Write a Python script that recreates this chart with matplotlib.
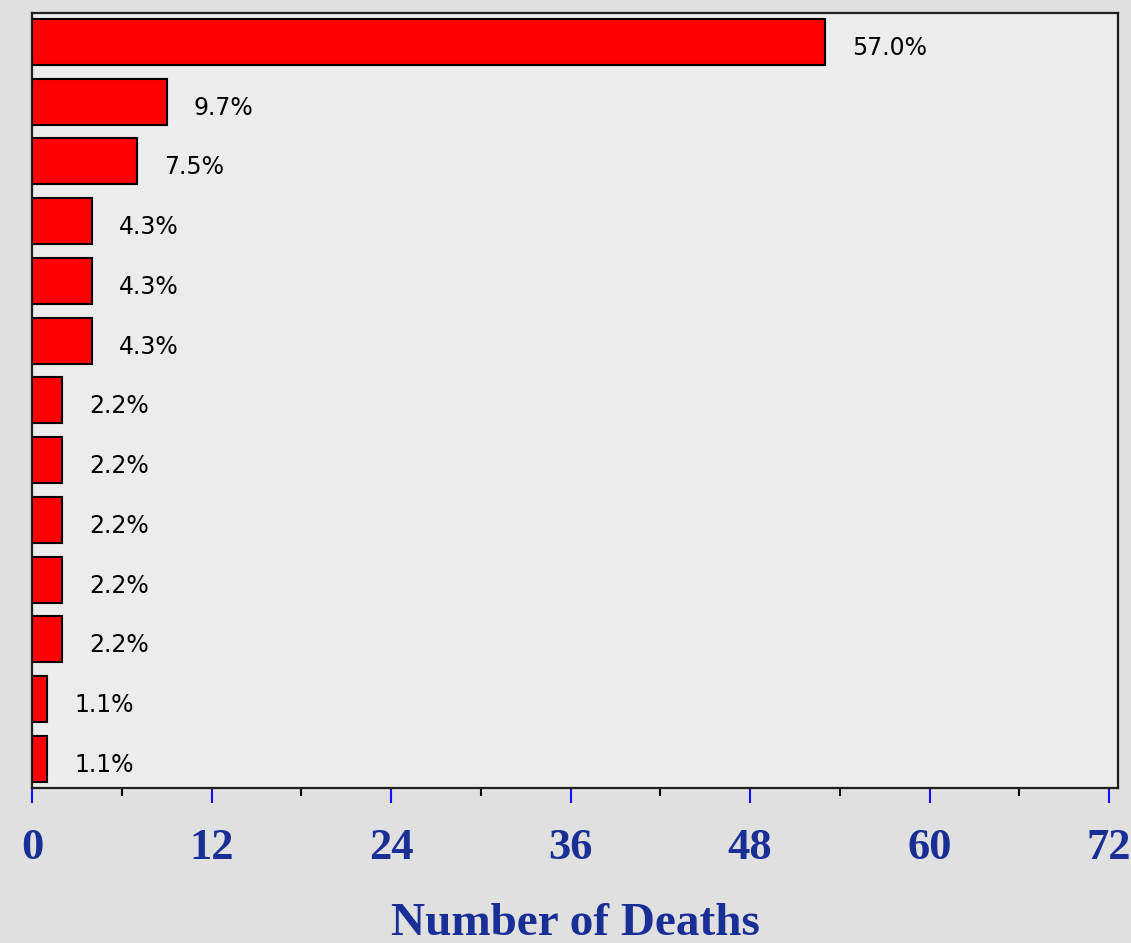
import numpy as np
import matplotlib.pyplot as plt
from matplotlib.ticker import MultipleLocator

# ---------------------------------------------------------------------------
# data (deaths per category, top to bottom)
# ---------------------------------------------------------------------------
deaths = [53, 9, 7, 4, 4, 4, 2, 2, 2, 2, 2, 1, 1]
pct_labels = ['57.0%', '9.7%', '7.5%', '4.3%', '4.3%', '4.3%',
              '2.2%', '2.2%', '2.2%', '2.2%', '2.2%', '1.1%', '1.1%']
x_ticks = [0, 12, 24, 36, 48, 60, 72]
x_label = 'Number of Deaths'

blue = '#1a2f96'

fig = plt.figure(figsize=(11.31, 9.43), dpi=100, facecolor='#e0e0e0')
ax = fig.add_axes([0.0283, 0.1644, 0.9602, 0.8218])
ax.set_facecolor('#ececec')

ypos = np.arange(len(deaths))
ax.barh(ypos, deaths, height=0.77, color='#ff0000', edgecolor='black',
        linewidth=1.5, zorder=3)

# percentage labels to the right of each bar, sitting a bit low
for y, v, lab in zip(ypos, deaths, pct_labels):
    ax.annotate(lab, (v, y), xytext=(27, -6), textcoords='offset pixels',
                ha='left', va='center', fontsize=17, family='DejaVu Sans',
                color='black')

ax.set_xlim(0, 72.6)
ax.set_ylim(12.485, -0.485)
ax.set_yticks([])

ax.set_xticks(x_ticks)
ax.xaxis.set_minor_locator(MultipleLocator(6))
ax.tick_params(axis='x', which='major', length=10.8, width=1.5, color='#1010ff',
               labelcolor=blue, labelsize=32, pad=18)
ax.tick_params(axis='x', which='minor', length=5.8, width=1.5, color='black')
for lab in ax.get_xticklabels():
    lab.set_family('Liberation Serif')
    lab.set_weight('bold')

ax.set_xlabel(x_label, fontsize=34, family='Liberation Serif', color=blue,
              weight='bold', labelpad=25)

for s in ax.spines.values():
    s.set_linewidth(1.6)
    s.set_color('#202020')

fig.savefig('out.png', dpi=100, facecolor=fig.get_facecolor())
